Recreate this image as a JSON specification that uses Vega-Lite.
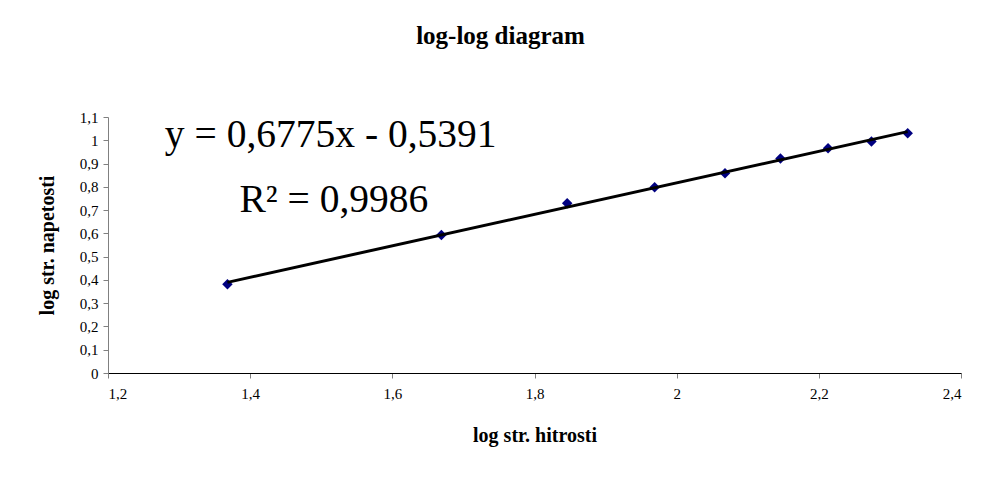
{
  "$schema": "https://vega.github.io/schema/vega-lite/v6.json",
  "width": 853,
  "height": 256,
  "autosize": {"type": "none"},
  "padding": {"left": 108, "top": 117, "right": 27, "bottom": 116},
  "background": "white",
  "title": {
    "text": "log-log diagram",
    "font": "Liberation Serif",
    "fontSize": 25,
    "fontWeight": "bold",
    "color": "black",
    "anchor": "middle",
    "offset": 61,
    "dx": -34
  },
  "config": {
    "locale": {"number": {"decimal": ",", "thousands": ".", "grouping": [3], "currency": ["", " €"]}},
    "view": {"stroke": null},
    "axis": {
      "labelFont": "Liberation Serif",
      "labelFontSize": 15,
      "labelColor": "black",
      "labelOverlap": false,
      "titleFont": "Liberation Serif",
      "titleFontSize": 20,
      "titleFontWeight": "bold",
      "titleColor": "black",
      "grid": false,
      "tickColor": "#808080",
      "tickSize": 5
    }
  },
  "datasets": {
    "pts": [
      {"x": 1.368, "y": 0.381},
      {"x": 1.669, "y": 0.593},
      {"x": 1.846, "y": 0.729},
      {"x": 1.969, "y": 0.798},
      {"x": 2.068, "y": 0.858},
      {"x": 2.146, "y": 0.922},
      {"x": 2.213, "y": 0.966},
      {"x": 2.274, "y": 0.995},
      {"x": 2.325, "y": 1.030}
    ],
    "notes": [
      {"x": 1.28, "y": 1.023, "label": "y = 0,6775x - 0,5391"},
      {"x": 1.385, "y": 0.745, "label": "R² = 0,9986"}
    ]
  },
  "encoding": {
    "x": {"field": "x", "type": "quantitative", "scale": {"domain": [1.2, 2.4], "nice": false, "zero": false},
      "axis": {"title": "log str. hitrosti", "values": [1.2, 1.4, 1.6, 1.8, 2.0, 2.2, 2.4], "format": ".1~f", "domainColor": "black", "labelPadding": 8, "titlePadding": 24}},
    "y": {"field": "y", "type": "quantitative", "scale": {"domain": [0, 1.1], "nice": false, "zero": false},
      "axis": {"title": "log str. napetosti", "values": [0, 0.1, 0.2, 0.3, 0.4, 0.5, 0.6, 0.7, 0.8, 0.9, 1.0, 1.1], "tickCount": 12, "labelOverlap": false, "format": ".1~f", "domainColor": "#808080", "labelPadding": 5, "titlePadding": 22}}
  },
  "layer": [
    {
      "data": {"name": "pts"},
      "mark": {"type": "point", "shape": "diamond", "filled": true, "color": "#000080", "size": 110, "opacity": 1}
    },
    {
      "data": {"name": "pts"},
      "transform": [{"regression": "y", "on": "x", "method": "linear"}],
      "mark": {"type": "line", "color": "black", "strokeWidth": 3}
    },
    {
      "data": {"name": "notes"},
      "mark": {"type": "text", "font": "Liberation Serif", "fontSize": 39.5, "align": "left", "baseline": "middle", "color": "black"},
      "encoding": {
        "text": {"field": "label"}
      }
    }
  ]
}
